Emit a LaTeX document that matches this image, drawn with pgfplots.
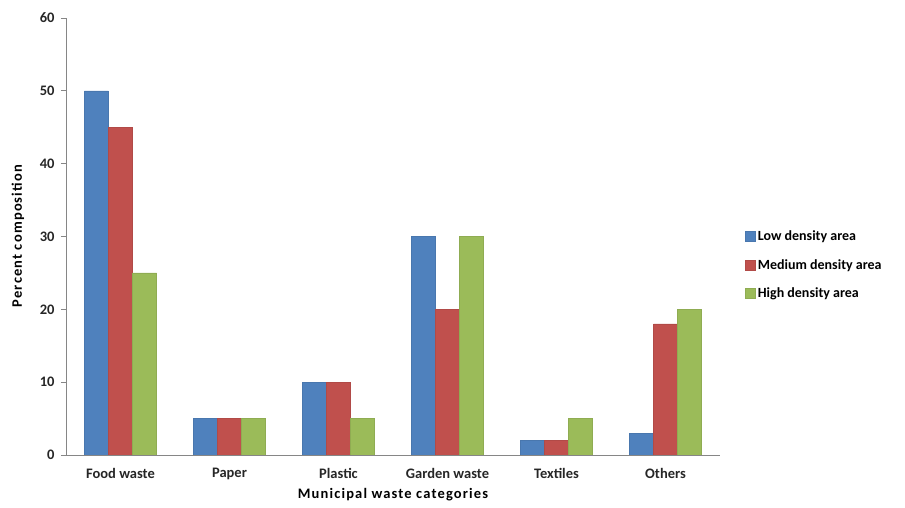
\documentclass[border=0pt]{standalone}
\usepackage{fontspec}
\setmainfont{Carlito}
\usepackage{pgfplots}
\pgfplotsset{compat=1.18}
\definecolor{cblue}{HTML}{4F81BD}
\definecolor{cred}{HTML}{C0504D}
\definecolor{cgreen}{HTML}{9BBB59}
\definecolor{axgray}{HTML}{868686}
\begin{document}
\begin{tikzpicture}[x=1pt,y=1pt]
\path (0,0) rectangle (905,508);
\begin{axis}[
  at={(66pt,53pt)}, anchor=south west,
  scale only axis, width=654pt, height=437pt,
  xmin=-0.5, xmax=5.5, ymin=0, ymax=60,
  ytick={0,10,...,60},
  xtick={0,...,5},
  xticklabels={Food waste,Paper,Plastic,Garden waste,Textiles,Others},
  extra x ticks={-0.5,0.5,...,5.5},
  extra x tick labels={},
  extra x tick style={major tick length=5pt, tick style={axgray, line width=0.8pt}},
  major x tick style={draw=none},
  tick align=outside,
  major tick length=5pt,
  y tick style={axgray, line width=0.8pt},
  axis x line*=bottom, axis y line*=left,
  axis line style={axgray, line width=0.8pt, -},
  ticklabel style={font=\fontsize{14.5}{16}\selectfont\bfseries, text=black!85},
  xticklabel style={yshift=-5pt},
  yticklabel style={xshift=-3pt},
  /pgf/number format/assume math mode=true,
  xlabel={Municipal waste categories},
  ylabel={Percent composition},
  label style={font=\fontsize{14.5}{16}\selectfont\bfseries\addfontfeatures{LetterSpace=8}},
  xlabel style={at={(axis description cs:0.5,-0.0915)}, anchor=center},
  ylabel style={at={(axis description cs:-0.0734,0.501)}, anchor=center},
  ybar=0pt, bar width=24pt,
  legend style={at={(1.034,0.435)}, anchor=west, draw=none, fill=none,
    font=\fontsize{14}{16}\selectfont\bfseries, row sep=13pt,
    /tikz/every even column/.append style={column sep=2pt}},
  legend image code/.code={\fill[#1] (0pt,-5pt) rectangle (10pt,5pt);},
  legend cell align=left,
]
\addplot[fill=cblue, draw=cblue!92!black] coordinates {(0,50) (1,5) (2,10) (3,30) (4,2) (5,3)};
\addplot[fill=cred, draw=cred!92!black] coordinates {(0,45) (1,5) (2,10) (3,20) (4,2) (5,18)};
\addplot[fill=cgreen, draw=cgreen!92!black] coordinates {(0,25) (1,5) (2,5) (3,30) (4,5) (5,20)};
\legend{Low density area, Medium density area, High density area}
\end{axis}
\end{tikzpicture}
\end{document}
